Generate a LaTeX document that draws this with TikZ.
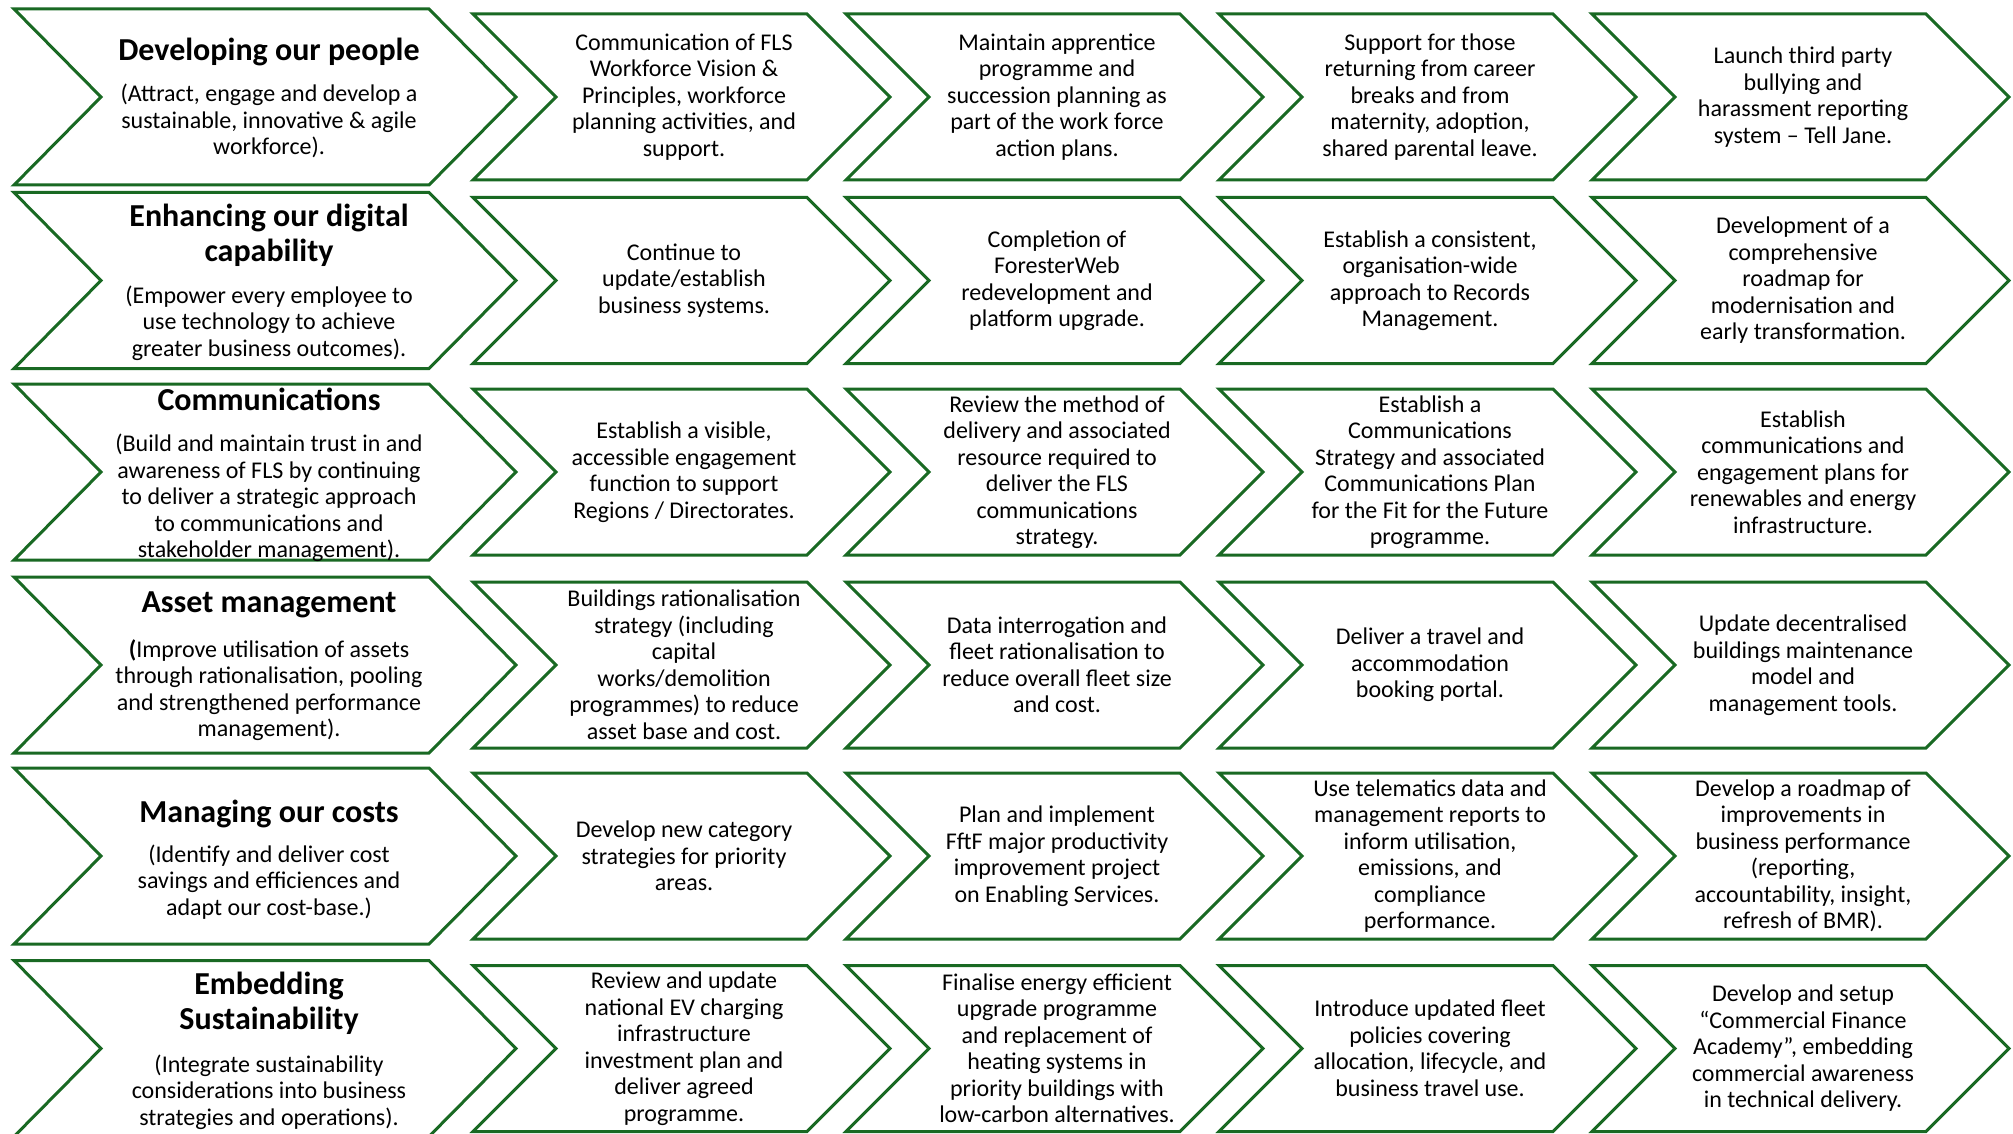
\documentclass[tikz,border=0pt]{standalone}
\usepackage{fontspec}
\setmainfont{Carlito}
\usetikzlibrary{positioning}
\definecolor{flsgreen}{RGB}{25,105,35}
% chevron: left, centre y, top width, depth, half height
\newcommand{\chevron}[5]{\draw[chev] (#1,#2-#5) -- ++(#3,0) -- ++(#4,#5) -- ++(-#4,#5) -- ++(-#3,0) -- ++(#4,-#5) -- cycle;}

\begin{document}
\begin{tikzpicture}[x=0.5pt, y=-0.5pt,
    chev/.style={draw=flsgreen, line width=1.5pt, fill=white},
    cell/.style={align=center, inner sep=0pt, font=\fontsize{12}{13.25}\selectfont},
    head/.style={align=center, inner sep=0pt, font=\bfseries\fontsize{16}{17.3}\selectfont}]
  \useasboundingbox (0,0) rectangle (2013,1134);

  % chevrons
  \foreach \y in {97,280.5,472,665,856,1048.5} {
    \chevron{14}{\y}{415}{87}{88}
    \foreach \c in {0,...,3} {
      \chevron{473+373*\c}{\y}{334}{83}{83}
    }
  }

  % developing our people
  \node[head] (people-title) at (269,52) {Developing our people};
  \node[cell] (people-text) at (269,121) {(Attract, engage and develop a\\sustainable, innovative \& agile\\workforce).};
  \node[cell] (people-2) at (684,97) {Communication of FLS\\Workforce Vision \&\\Principles, workforce\\planning activities, and\\support.};
  \node[cell] (people-3) at (1057,97) {Maintain apprentice\\programme and\\succession planning as\\part of the work force\\action plans.};
  \node[cell] (people-4) at (1430,97) {Support for those\\returning from career\\breaks and from\\maternity, adoption,\\shared parental leave.};
  \node[cell] (people-5) at (1803,97) {Launch third party\\bullying and\\harassment reporting\\system – Tell Jane.};

  % digital capability
  \node[head] (digital-title) at (269,235) {Enhancing our digital\\capability};
  \node[cell] (digital-text) at (269,323) {(Empower every employee to\\use technology to achieve\\greater business outcomes).};
  \node[cell] (digital-2) at (684,280.5) {Continue to\\update/establish\\business systems.};
  \node[cell] (digital-3) at (1057,280.5) {Completion of\\ForesterWeb\\redevelopment and\\platform upgrade.};
  \node[cell] (digital-4) at (1430,280.5) {Establish a consistent,\\organisation-wide\\approach to Records\\Management.};
  \node[cell] (digital-5) at (1803,280.5) {Development of a\\comprehensive\\roadmap for\\modernisation and\\early transformation.};

  % communications
  \node[head] (comms-title) at (269,399) {Communications};
  \node[cell] (comms-text) at (269,498) {(Build and maintain trust in and\\awareness of FLS by continuing\\to deliver a strategic approach\\to communications and\\stakeholder management).};
  \node[cell] (comms-2) at (684,472) {Establish a visible,\\accessible engagement\\function to support\\Regions / Directorates.};
  \node[cell] (comms-3) at (1057,472) {Review the method of\\delivery and associated\\resource required to\\deliver the FLS\\communications\\strategy.};
  \node[cell] (comms-4) at (1430,472) {Establish a\\Communications\\Strategy and associated\\Communications Plan\\for the Fit for the Future\\programme.};
  \node[cell] (comms-5) at (1803,472) {Establish\\communications and\\engagement plans for\\renewables and energy\\infrastructure.};

  % asset management
  \node[head] (assets-title) at (269,605) {Asset management};
  \node[cell] (assets-text) at (269,690) {\textbf{(}Improve utilisation of assets\\through rationalisation, pooling\\and strengthened performance\\management).};
  \node[cell] (assets-2) at (684,665) {Buildings rationalisation\\strategy (including\\capital\\works/demolition\\programmes) to reduce\\asset base and cost.};
  \node[cell] (assets-3) at (1057,665) {Data interrogation and\\fleet rationalisation to\\reduce overall fleet size\\and cost.};
  \node[cell] (assets-4) at (1430,665) {Deliver a travel and\\accommodation\\booking portal.};
  \node[cell] (assets-5) at (1803,665) {Update decentralised\\buildings maintenance\\model and\\management tools.};

  % managing our costs
  \node[head] (costs-title) at (269,814) {Managing our costs};
  \node[cell] (costs-text) at (269,882) {(Identify and deliver cost\\savings and efficiences and\\adapt our cost-base.)};
  \node[cell] (costs-2) at (684,856) {Develop new category\\strategies for priority\\areas.};
  \node[cell] (costs-3) at (1057,856) {Plan and implement\\FftF major productivity\\improvement project\\on Enabling Services.};
  \node[cell] (costs-4) at (1430,856) {Use telematics data and\\management reports to\\inform utilisation,\\emissions, and\\compliance\\performance.};
  \node[cell] (costs-5) at (1803,856) {Develop a roadmap of\\improvements in\\business performance\\(reporting,\\accountability, insight,\\refresh of BMR).};

  % embedding sustainability
  \node[head] (sustain-title) at (269,1003) {Embedding\\Sustainability};
  \node[cell] (sustain-text) at (269,1092) {(Integrate sustainability\\considerations into business\\strategies and operations).};
  \node[cell] (sustain-2) at (684,1048.5) {Review and update\\national EV charging\\infrastructure\\investment plan and\\deliver agreed\\programme.};
  \node[cell] (sustain-3) at (1057,1048.5) {Finalise energy efficient\\upgrade programme\\and replacement of\\heating systems in\\priority buildings with\\low-carbon alternatives.};
  \node[cell] (sustain-4) at (1430,1048.5) {Introduce updated fleet\\policies covering\\allocation, lifecycle, and\\business travel use.};
  \node[cell] (sustain-5) at (1803,1048.5) {Develop and setup\\“Commercial Finance\\Academy”, embedding\\commercial awareness\\in technical delivery.};
\end{tikzpicture}
\end{document}
